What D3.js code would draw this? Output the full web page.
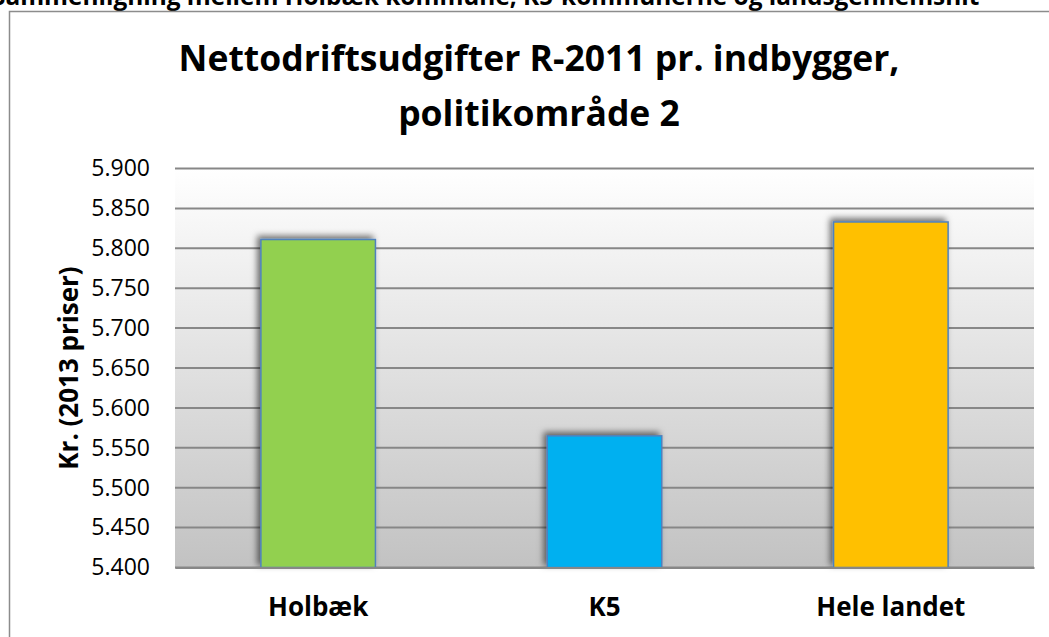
<!DOCTYPE html>
<html>
<head>
<meta charset="utf-8">
<script src="https://cdn.jsdelivr.net/npm/d3@7"></script>
<style>
  body { margin: 0; background: #fff; }
  svg { display: block; font-family: "Open Sans", Lato, sans-serif; }
</style>
</head>
<body>
<svg width="1049" height="637"></svg>
<script>
const categories = ['Holbæk', 'K5', 'Hele landet'];
const values = [5811, 5565, 5833];
const barColors = ['#92d050', '#00b0f0', '#ffc000'];
const yTicks = [5400, 5450, 5500, 5550, 5600, 5650, 5700, 5750, 5800, 5850, 5900];
const titleLines = ['Nettodriftsudgifter R-2011 pr. indbygger,', 'politikområde 2'];
const pageHeading = 'Sammenligning mellem Holbæk kommune, K5-kommunerne og landsgennemsnit';
const yLabel = 'Kr. (2013 priser)';

const FONT = '"Open Sans", Lato, sans-serif';
const svg = d3.select('svg');
const margin = { top: 168.5, right: 15, bottom: 69.5, left: 175 };
const width = +svg.attr('width') - margin.left - margin.right;
const height = +svg.attr('height') - margin.top - margin.bottom;

const fmt = d => d3.format(',.3f')(d / 1000).replace(',', '.');

// defs: plot gradient + bar shadow
const defs = svg.append('defs');
const grad = defs.append('linearGradient').attr('id', 'plotbg')
    .attr('x1', 0).attr('y1', 0).attr('x2', 0).attr('y2', 1);
grad.append('stop').attr('offset', '0%').attr('stop-color', '#ffffff');
grad.append('stop').attr('offset', '100%').attr('stop-color', '#c2c2c2');
const shadow = defs.append('filter').attr('id', 'shadow')
    .attr('x', '-20%').attr('y', '-20%').attr('width', '140%').attr('height', '140%');
shadow.append('feDropShadow').attr('dx', -3).attr('dy', -3)
    .attr('stdDeviation', 3).attr('flood-color', '#000').attr('flood-opacity', 0.55);

// page heading (cut off at top) and chart frame
svg.append('text')
    .attr('x', -8).attr('y', 5)
    .attr('font-size', 24.4).attr('font-weight', 'bold')
    .text(pageHeading);
svg.append('rect')
    .attr('x', 9.5).attr('y', 11.5).attr('width', 1060).attr('height', 660)
    .attr('fill', '#fff').attr('stroke', '#8c8c8c').attr('stroke-width', 1.5);

// title
svg.append('text')
    .attr('text-anchor', 'middle').attr('font-size', 35.5).attr('font-weight', 'bold')
    .selectAll('tspan').data(titleLines).join('tspan')
    .attr('x', 539).attr('y', (d, i) => 71 + i * 55)
    .text(d => d);

const g = svg.append('g').attr('transform', `translate(${margin.left},${margin.top})`);

const x = d3.scaleBand().domain(categories).range([0, width]).paddingInner(0.6).paddingOuter(0.3);
const y = d3.scaleLinear().domain([5400, 5900]).range([height, 0]);

g.append('rect').attr('width', width).attr('height', height).attr('fill', 'url(#plotbg)');

// gridlines
g.append('g').selectAll('line').data(yTicks).join('line')
    .attr('x1', 0).attr('x2', width)
    .attr('y1', d => y(d)).attr('y2', d => y(d))
    .attr('stroke', '#878787').attr('stroke-width', 2);

// bars
g.append('g').selectAll('rect').data(values).join('rect')
    .attr('x', (d, i) => x(categories[i]))
    .attr('y', d => y(d))
    .attr('width', x.bandwidth())
    .attr('height', d => y(5400) - y(d))
    .attr('fill', (d, i) => barColors[i])
    .attr('stroke', '#4f81bd').attr('stroke-width', 1.5)
    .attr('filter', 'url(#shadow)');

// y axis
const yAxis = g.append('g')
    .call(d3.axisLeft(y).tickValues(yTicks).tickFormat(fmt).tickSize(0).tickPadding(25));
yAxis.select('.domain').remove();
yAxis.selectAll('text').attr('font-size', 23).attr('fill', '#000').attr('font-family', FONT);

// x axis
const xAxis = g.append('g').attr('transform', `translate(0,${height})`)
    .call(d3.axisBottom(x).tickSize(0).tickPadding(30));
xAxis.select('.domain').attr('stroke', '#878787').attr('stroke-width', 2);
xAxis.selectAll('text').attr('font-size', 26).attr('font-weight', 'bold').attr('fill', '#000')
    .attr('font-family', FONT);

// y label
svg.append('text')
    .attr('transform', 'translate(78,368) rotate(-90)')
    .attr('text-anchor', 'middle').attr('font-size', 26).attr('font-weight', 'bold')
    .text(yLabel);
</script>
</body>
</html>
